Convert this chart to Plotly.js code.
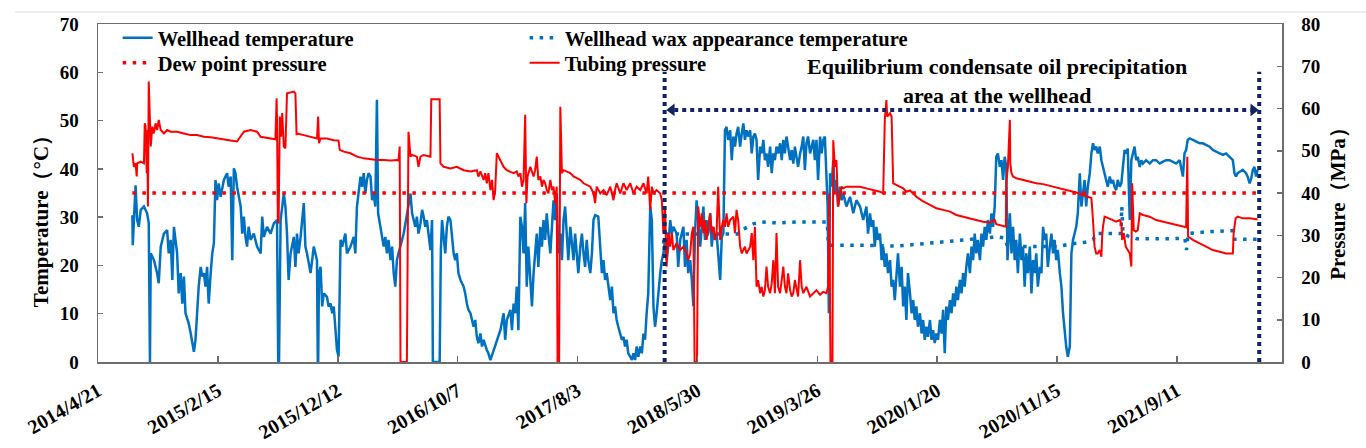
<!DOCTYPE html>
<html>
<head>
<meta charset="utf-8">
<script src="https://cdn.plot.ly/plotly-3.0.1.min.js"></script>
<style>
  html, body { margin: 0; padding: 0; background: #fff; }
  #chart { width: 1366px; height: 448px; }
</style>
</head>
<body>
<div id="chart"></div>
<script>
// x values are days counted from 2014/4/21
const startDate = '2014-04-21';
const tickLabels = ['2014/4/21', '2015/2/15', '2015/12/12', '2016/10/7', '2017/8/3',
  '2018/5/30', '2019/3/26', '2020/1/20', '2020/11/15', '2021/9/11'];
const axisEndDay = 2963;

// [day, °C]
const wellheadTemp = [
  [86,30.4],[87,24.2],[94,36.6],[98,29.4],[102,28.0],[107,31.5],[115,32.2],[123,30.8],[127,28.7],[129,0],
  [130,0],[132,22.5],[140,21.1],[148,18.4],[152,16.3],[157,23.9],[165,26.6],[173,27.3],[177,22.5],[182,25.3],
  [186,17.0],[190,28.0],[198,22.5],[202,14.2],[207,18.4],[211,12.1],[215,17.7],[219,10.1],[227,8.0],[232,5.9],
  [236,3.9],[240,2.1],[244,4.6],[248,10.1],[252,15.6],[257,19.7],[261,17.7],[265,18.4],[269,15.6],[273,19.7],
  [277,12.1],[282,18.4],[286,22.5],[290,24.6],[294,37.7],[298,33.5],[302,37.0],[307,34.2],[315,37.7],[323,39.1],
  [327,36.3],[332,38.4],[336,21.1],[340,40.1],[344,39.1],[348,36.3],[352,34.2],[357,32.2],[361,26.6],[365,30.1],
  [369,25.9],[373,23.9],[377,28.0],[382,25.3],[390,26.6],[398,23.9],[407,22.5],[411,30.1],[415,25.9],[423,28.0],
  [432,26.6],[440,28.7],[448,29.4],[451,0],[453,0],[457,29.4],[465,34.9],[469,32.2],[473,26.6],[477,17.0],
  [482,22.5],[490,25.9],[494,19.7],
  [498,26.6],[502,22.5],[507,25.9],[515,32.9],[519,23.9],[523,22.5],[532,18.4],[540,23.9],[544,22.5],[548,21.1],
  [550,0],[551,0],[553,18.4],[557,19.7],[561,11.5],[565,14.2],[573,13.5],[577,11.5],[582,12.1],[586,10.1],
  [590,11.5],[594,7.3],[598,2.5],[602,1.1],[607,25.3],[611,23.9],[619,26.6],[623,22.5],[632,23.9],[640,25.9],
  [644,22.5],[648,32.2],[652,34.9],[657,38.4],[661,36.3],[665,39.1],[669,34.9],[673,37.7],[677,39.1],[682,38.4],
  [686,33.5],[690,34.9],[694,32.2],[698,54.3],[701,30.8],[707,28.0],[711,26.6],[715,23.9],[719,25.9],[723,22.5],
  [727,25.3],[732,21.1],[736,23.9],[740,18.4],[744,15.6],[748,21.1],[752,22.5],[765,26.6],[782,34.9],[786,30.8],
  [790,29.4],[794,28.0],[798,30.1],[802,26.6],[807,28.7],[811,31.5],[815,30.1],[819,28.0],[823,29.4],[827,26.6],
  [832,23.2],[836,29.4],[838,0],[855,0],[858,23.2],[861,29.4],[865,26.6],[869,22.5],[873,28.0],[877,30.1],
  [882,29.4],[886,25.9],[890,22.5],[894,21.1],[898,22.5],[902,18.4],[907,17.0],[915,15.6],[919,14.2],[923,12.1],
  [927,10.8],[932,10.1],[936,8.7],[940,7.3],[944,8.7],[948,5.2],[952,3.9],[957,5.9],[961,3.2],[965,4.6],
  [973,2.5],[977,1.8],[982,0.4],[990,2.5],
  [998,4.6],[1007,6.6],[1015,10.1],[1019,4.6],[1023,8.7],[1032,10.8],[1036,6.6],[1040,12.1],[1044,10.1],[1048,15.6],
  [1052,6.6],[1057,30.1],[1061,28.0],[1065,22.5],[1069,32.9],[1073,15.6],[1077,23.9],[1082,17.0],[1086,11.5],[1090,18.4],
  [1094,22.5],[1098,26.6],[1102,19.7],[1107,28.0],[1111,23.9],[1115,29.4],[1119,25.3],[1123,30.8],[1127,26.6],[1132,22.5],
  [1136,28.0],[1140,33.5],[1144,29.4],[1148,34.9],[1152,22.5],[1157,26.6],[1161,21.1],[1165,29.4],[1169,32.2],[1173,25.3],
  [1177,21.1],[1182,28.0],[1186,23.9],[1190,21.1],[1194,26.6],[1198,22.5],[1202,18.4],[1207,23.9],[1211,26.6],[1215,22.5],
  [1219,19.7],[1223,25.3],[1227,21.1],[1232,18.4],[1236,22.5],[1240,29.4],[1244,30.4],[1252,30.1],[1257,23.9],[1261,18.4],
  [1265,21.1],[1269,17.0],[1273,18.4],[1277,15.6],[1282,12.8],[1286,15.6],[1290,10.1],[1294,11.5],[1298,8.7],[1302,7.3],
  [1307,5.9],[1311,4.6],[1315,5.2],[1319,3.2],[1323,4.6],[1327,1.8],[1332,1.1],[1336,0.4],[1340,1.8],[1344,0.4],
  [1348,3.2],[1352,1.1],[1357,3.2],[1361,1.8],[1365,5.9],[1369,4.6],[1373,10.1],[1377,14.2],[1382,32.2],[1386,29.4],
  [1390,11.5],[1394,7.3],[1398,10.1],[1402,14.2],[1407,18.4],[1411,21.1],[1415,22.5],[1419,25.3],[1423,21.1],[1427,23.9],
  [1432,29.4],[1436,26.6],[1440,28.0],[1448,26.6],[1452,19.7],[1457,25.3],[1465,28.0],[1469,19.7],[1473,25.3],[1477,18.4],
  [1482,21.1],[1486,17.0],[1490,11.5],[1494,26.6],
  [1498,33.5],[1502,29.4],[1507,23.9],[1511,28.0],[1515,32.2],[1519,25.3],[1523,29.4],[1527,26.6],[1532,30.8],[1536,23.9],
  [1540,28.0],[1544,25.3],[1548,26.6],[1552,22.5],[1557,17.0],[1561,25.9],[1565,26.6],[1569,48.0],[1573,48.7],[1577,46.0],
  [1582,48.0],[1586,41.8],[1590,46.7],[1594,44.6],[1598,47.3],[1602,48.7],[1607,44.6],[1611,47.3],[1615,49.4],[1619,46.0],
  [1623,48.0],[1627,46.7],[1632,48.0],[1636,43.2],[1640,46.7],[1644,47.3],[1648,46.0],[1652,37.7],[1657,44.6],[1661,43.2],
  [1665,46.0],[1669,41.8],[1673,43.2],[1677,40.4],[1682,44.6],[1686,39.1],[1690,43.2],[1694,41.8],[1698,44.6],[1702,43.2],
  [1707,45.3],[1711,41.8],[1715,46.0],[1719,43.2],[1723,46.7],[1727,44.6],[1732,41.8],[1736,43.9],[1740,41.1],[1744,44.6],
  [1748,42.5],[1752,40.4],[1757,43.2],[1761,44.6],[1765,46.7],[1769,39.8],[1773,45.3],[1777,46.7],[1782,43.2],[1786,44.6],
  [1790,46.0],[1794,41.8],[1798,46.0],[1802,37.7],[1807,46.7],[1811,43.2],[1815,46.0],[1819,46.7],[1823,36.3],[1826,32.2],
  [1829,10.1],[1832,39.1],[1836,36.3],[1840,41.8],[1844,34.9],[1848,37.7],[1852,32.2],[1857,36.3],[1861,33.5],[1865,34.9],
  [1873,32.2],[1882,34.2],[1890,30.8],[1898,33.5],[1907,32.2],[1915,29.4],[1923,32.2],[1927,26.6],[1932,30.8],[1936,28.0],
  [1940,29.4],[1944,23.9],[1948,28.0],[1952,25.3],[1957,26.6],[1961,21.1],[1965,23.9],[1969,19.7],[1973,22.5],[1977,18.4],
  [1982,21.1],[1986,15.6],[1990,17.0],[1994,12.8],
  [1998,17.7],[2002,22.5],[2007,15.6],[2011,19.7],[2015,11.5],[2019,15.6],[2023,8.7],[2027,18.4],[2032,14.2],[2036,10.1],
  [2040,12.8],[2044,8.7],[2048,11.5],[2052,7.3],[2057,10.1],[2061,5.9],[2065,8.7],[2069,4.6],[2073,7.3],[2077,5.2],
  [2082,8.7],[2086,4.6],[2090,6.6],[2094,3.9],[2098,5.9],[2102,4.6],[2107,8.7],[2111,5.9],[2115,10.8],[2119,1.8],
  [2123,11.5],[2127,8.7],[2132,12.8],[2136,10.1],[2140,14.2],[2144,11.5],[2148,15.6],[2152,12.8],[2157,17.0],[2161,14.2],
  [2165,18.4],[2169,15.6],[2173,19.7],[2177,22.5],[2182,18.4],[2186,23.9],[2190,21.1],[2194,26.6],[2198,22.5],[2202,25.3],
  [2207,21.1],[2211,26.6],[2215,23.9],[2219,28.0],[2223,25.3],[2227,29.4],[2232,26.6],[2236,30.8],[2240,28.0],[2244,32.2],
  [2248,42.5],[2252,43.2],[2257,40.4],[2261,41.8],[2265,37.7],[2269,42.5],[2273,40.4],[2276,21.1],[2282,30.8],[2286,22.5],
  [2290,28.0],[2294,21.1],[2298,25.3],[2302,18.4],[2307,26.6],[2311,21.1],[2315,23.9],[2319,15.6],[2323,22.5],[2327,18.4],
  [2332,23.9],[2336,14.2],[2340,21.1],[2344,18.4],[2348,22.5],[2352,15.6],[2357,19.7],[2361,18.4],[2365,28.0],[2369,25.3],
  [2373,26.6],[2377,19.7],[2382,23.9],[2386,26.6],[2390,22.5],[2394,25.3],[2398,21.1],[2402,23.2],[2407,18.4],[2411,15.6],
  [2415,10.1],[2419,5.9],[2423,3.2],[2427,1.1],[2432,3.2],[2436,22.5],[2440,25.3],[2444,26.6],[2448,28.0],[2452,30.8],
  [2457,39.1],[2461,32.2],[2465,34.9],[2469,37.7],[2473,32.2],[2477,36.3],[2482,39.1],[2486,43.2],[2490,45.3],[2494,43.9],
  [2498,44.6],[2502,43.2],[2507,44.6],[2511,41.8],[2515,40.4],[2519,39.1],[2523,37.7],[2527,36.3],[2532,38.4],[2536,37.0],
  [2540,37.7],[2544,36.3],[2548,35.6],[2552,37.7],[2557,36.3],[2561,37.0],[2565,40.4],[2569,43.9],[2573,43.2],[2577,44.2],
  [2582,29.4],[2586,41.8],[2590,43.2],[2594,44.6],[2598,41.8],[2602,42.5],[2607,40.4],[2611,41.8],[2615,41.1],[2623,41.8],
  [2632,41.1],[2640,41.8],[2648,41.8],[2657,41.1],[2665,41.5],[2673,41.8],[2682,41.8],[2690,41.5],[2698,41.1],[2707,41.8],
  [2711,40.4],[2715,38.4],[2719,43.2],[2723,43.9],[2727,46.0],[2732,46.3],[2740,46.0],[2748,45.6],[2757,45.3],[2765,45.3],
  [2773,44.9],[2782,44.6],[2790,43.9],[2798,43.6],[2807,43.2],[2815,42.9],[2823,43.2],[2832,42.5],[2840,41.8],[2844,39.1],
  [2848,38.4],[2852,39.1],[2857,39.4],[2865,39.8],[2873,39.1],[2877,38.4],[2882,37.0],[2886,38.0],[2890,39.8],[2894,40.4],
  [2898,38.4],[2902,39.8]
];

// [day, °C]
const waxTemp = [
  [1415,24.5],[1420,26.5],[1500,26.5],[1600,26.5],[1615,27.5],[1640,28.6],[1660,29.0],[1700,28.8],[1750,29.0],[1800,29.1],
  [1825,29.0],[1828,24.2],[1900,24.2],[2000,24.0],[2100,24.8],[2200,25.6],[2248,25.9],[2270,25.7],[2276,23.9],[2400,23.9],
  [2432,24.4],[2470,24.8],[2490,25.3],[2498,26.6],[2560,26.6],[2562,32.2],[2565,26.6],[2580,26.0],[2600,25.5],[2650,25.5],
  [2720,25.6],[2724,23.2],[2728,26.6],[2780,27.0],[2840,27.2],[2844,25.4],[2902,25.4]
];

// [day, MPa]
const dewPressure = [[86,40],[2902,40]];

// [day, MPa]
const tubingPressure = [
  [86,49.4],[90,46.2],[94,47.0],[97,43.9],[98,47.0],[107,47.4],[115,47.0],[117,56.5],[119,55.7],[122,44.7],
  [123,54.9],[125,36.8],[127,66.4],[130,53.3],[132,51.0],[136,55.7],[140,54.1],[144,56.5],[148,54.9],[152,57.3],
  [157,54.9],[165,54.1],[173,54.9],[182,54.5],[198,54.5],[215,54.1],[232,53.7],[248,53.7],[265,53.3],[282,53.2],
  [298,52.9],[315,52.7],[332,52.4],[348,52.2],[357,53.3],[365,54.5],[382,54.9],[398,54.5],[407,53.3],[415,53.2],
  [432,52.9],[444,52.7],[447,62.4],[448,57.3],[450,33.6],[452,32.8],[455,58.1],[458,53.3],[461,58.9],[465,51.0],
  [469,50.6],[473,63.6],[490,64.0],[494,63.6],[497,53.7],
  [498,54.1],[515,53.7],[532,53.3],[548,52.9],[551,58.1],[553,51.8],[557,52.9],[573,52.9],[590,52.5],[602,52.4],
  [605,50.2],[615,49.8],[632,49.4],[648,48.6],[665,48.2],[682,48.0],[698,47.8],[715,47.8],[732,47.7],[748,47.8],
  [752,47.7],[755,51.0],[757,0],[773,0],[775,47.8],[777,54.5],[782,48.6],[786,49.0],[798,48.6],[802,46.2],
  [807,48.6],[815,49.0],[832,48.6],[834,62.2],[855,62.2],[857,47.0],[865,46.2],[882,45.8],[898,46.2],[915,45.4],
  [932,45.1],[948,45.4],[952,43.9],[957,45.1],[965,43.1],[969,44.7],[973,42.3],[977,44.7],[982,40.7],[986,43.1],
  [990,38.3],[994,40.7],
  [998,49.4],[1007,47.8],[1015,46.2],[1023,45.4],[1032,45.1],[1040,44.7],[1048,45.1],[1052,43.9],[1057,44.7],[1061,41.5],
  [1065,43.1],[1069,58.5],[1072,37.6],[1075,43.9],[1082,46.2],[1086,44.7],[1090,43.9],[1094,45.4],[1098,48.6],[1102,43.1],
  [1107,43.9],[1111,41.5],[1115,43.1],[1119,42.3],[1123,40.7],[1127,39.9],[1132,43.1],[1136,40.7],[1140,41.5],[1144,37.6],
  [1148,41.5],[1150,0],[1154,0],[1157,60.4],[1161,44.7],[1165,45.4],[1173,45.1],[1182,44.7],[1190,43.9],[1198,43.5],
  [1207,43.1],[1215,42.3],[1223,41.9],[1232,41.5],[1240,39.9],[1244,37.6],[1248,41.5],[1257,39.9],[1265,40.7],[1273,39.5],
  [1282,41.5],[1290,38.3],[1294,40.7],[1298,42.3],[1307,39.9],[1315,42.3],[1323,40.7],[1332,42.3],[1340,39.9],[1348,41.5],
  [1357,40.7],[1365,42.3],[1373,39.9],[1377,43.9],[1382,36.0],[1386,41.5],[1390,39.9],[1398,40.7],[1407,39.9],[1411,38.3],
  [1415,30.5],[1419,36.8],[1423,22.6],[1427,30.5],[1432,27.3],[1436,30.5],[1440,26.5],[1448,28.1],[1457,26.5],[1465,27.3],
  [1473,25.7],[1477,24.1],[1482,25.7],[1486,30.5],[1490,32.0],[1493,0],[1499,0],
  [1502,36.8],[1507,32.0],[1511,35.2],[1515,30.5],[1519,33.6],[1523,28.9],[1527,32.0],[1532,35.2],[1536,30.5],[1540,32.0],
  [1544,28.9],[1548,30.5],[1552,41.5],[1557,28.9],[1561,32.0],[1565,33.6],[1569,32.0],[1573,35.2],[1577,32.0],[1582,33.6],
  [1590,34.4],[1594,30.5],[1598,36.0],[1602,33.6],[1607,27.3],[1611,25.7],[1615,26.5],[1619,27.3],[1623,25.7],[1627,26.5],
  [1632,27.3],[1636,30.5],[1640,24.1],[1644,32.0],[1648,17.8],[1652,19.4],[1657,16.3],[1661,17.8],[1665,15.5],[1669,17.0],
  [1673,22.6],[1677,17.8],[1682,16.3],[1686,18.6],[1690,24.1],[1694,16.3],[1698,30.5],[1702,17.8],[1707,16.3],[1711,19.4],
  [1715,22.6],[1719,17.8],[1723,16.3],[1727,21.0],[1732,17.0],[1736,15.5],[1740,16.3],[1744,19.4],[1748,17.0],[1752,15.5],
  [1757,24.1],[1761,17.8],[1765,16.3],[1773,17.8],[1782,15.5],[1790,16.3],[1798,17.0],[1807,15.9],[1815,16.6],[1823,16.3],
  [1827,17.8],[1830,39.9],[1833,0],[1838,0],[1840,52.5],[1844,46.2],[1848,47.8],[1852,36.8],[1857,39.9],[1861,41.5],
  [1865,41.1],[1873,41.5],[1890,41.5],[1907,41.5],[1923,41.1],[1940,40.7],[1957,40.3],[1965,39.9],[1969,57.3],[1973,62.0],
  [1975,58.1],[1982,58.9],[1986,58.1],[1990,42.3],[1998,41.9],
  [2015,41.1],[2023,40.3],[2032,40.6],[2048,39.1],[2065,38.0],[2082,37.2],[2098,36.4],[2115,36.0],[2132,35.6],[2148,34.8],
  [2165,34.4],[2182,34.0],[2198,33.6],[2215,33.2],[2232,33.0],[2244,33.6],[2248,32.6],[2265,32.2],[2272,32.0],[2273,42.3],
  [2277,46.2],[2282,57.3],[2283,47.0],[2286,44.7],[2290,43.9],[2298,43.5],[2315,43.1],[2332,42.7],[2348,42.3],[2365,42.1],
  [2382,41.7],[2398,41.3],[2415,40.9],[2432,40.6],[2448,40.1],[2465,39.5],[2477,39.1],[2486,38.8],[2490,33.6],[2494,27.3],
  [2498,25.7],[2502,25.7],[2507,26.5],[2511,24.9],[2513,29.7],[2515,32.0],[2519,34.4],[2532,34.0],[2540,33.6],[2548,33.2],
  [2557,33.6],[2561,32.8],[2563,28.9],[2567,30.5],[2572,27.3],[2577,26.5],[2582,25.7],[2586,22.6],[2588,42.3],[2592,31.2],
  [2597,30.9],[2602,31.2],[2607,35.2],[2615,34.8],[2632,34.4],[2648,33.6],[2665,33.2],[2682,32.8],[2698,32.4],[2715,32.0],
  [2723,31.9],[2726,48.6],[2728,29.7],[2740,28.9],[2757,28.1],[2773,27.3],[2790,26.5],[2807,26.1],[2823,25.7],[2840,25.7],
  [2842,30.5],[2847,34.0],[2852,34.4],[2865,34.0],[2882,34.0],[2898,33.8],[2902,33.8]
];

// precipitation area marked with the arrow: start / end day, arrow level (°C), top of markers (°C)
const regionDays = [1418, 2906];
const arrowDays = [1436, 2891];
const arrowLevel = 52.2;
const regionTop = 60.1;

const base = Date.UTC(2014, 3, 21);
function dayToDate(d) {
  return new Date(base + d * 86400000).toISOString().slice(0, 10);
}
function labelToDate(s) {
  const p = s.split('/');
  return p[0] + '-' + p[1].padStart(2, '0') + '-' + p[2].padStart(2, '0');
}
const xs = arr => arr.map(p => dayToDate(p[0]));
const ys = arr => arr.map(p => p[1]);

const serif = 'Liberation Serif, Times New Roman, serif';
const navy = '#102463';
const frame = '#6e6e6e';

const traces = [
  {
    x: xs(wellheadTemp), y: ys(wellheadTemp), type: 'scatter', mode: 'lines',
    name: 'Wellhead temperature', line: { color: '#0070C0', width: 2.5 },
    legend: 'legend'
  },
  {
    x: xs(waxTemp), y: ys(waxTemp), type: 'scatter', mode: 'lines',
    name: 'Wellhead wax appearance temperature',
    line: { color: '#0070C0', width: 3.5, dash: '3.5px,6.5px' },
    legend: 'legend'
  },
  {
    x: xs(dewPressure), y: ys(dewPressure), type: 'scatter', mode: 'lines', yaxis: 'y2',
    name: 'Dew point pressure', line: { color: '#FF0000', width: 3.5, dash: '3.5px,6.5px' },
    legend: 'legend2'
  },
  {
    x: xs(tubingPressure), y: ys(tubingPressure), type: 'scatter', mode: 'lines', yaxis: 'y2',
    name: 'Tubing pressure', line: { color: '#FF0000', width: 2 },
    legend: 'legend2'
  },
  {
    x: xs(arrowDays.map(d => [d])), y: [arrowLevel, arrowLevel], type: 'scatter', mode: 'markers',
    marker: { symbol: ['triangle-left', 'triangle-right'], size: 11, color: navy },
    showlegend: false, hoverinfo: 'skip', cliponaxis: false
  }
];

const tickFont = { family: serif, size: 19, color: '#000', weight: 'bold' };
const legendFont = { family: serif, size: 20.5, color: '#000', weight: 'bold' };
const noteFont = { family: serif, size: 22, color: '#000', weight: 'bold' };
const titleFont = { family: serif, size: 21, color: '#000', weight: 'bold' };

const dotted = { color: navy, width: 4, dash: '4px,4px' };

const layout = {
  width: 1366, height: 448,
  margin: { l: 98, r: 84, t: 24, b: 86 },
  paper_bgcolor: '#fff', plot_bgcolor: '#fff',
  showlegend: true,
  xaxis: {
    type: 'date',
    range: [startDate, dayToDate(axisEndDay)],
    tickvals: tickLabels.map(labelToDate),
    ticktext: tickLabels,
    tickangle: -30,
    tickfont: { family: serif, size: 20, color: '#000', weight: 'bold' },
    ticks: 'inside', ticklen: 6, tickcolor: frame, tickwidth: 1.5,
    ticklabelstandoff: 8,
    showline: true, linecolor: frame, linewidth: 1.5, mirror: true,
    showgrid: false, zeroline: false
  },
  yaxis: {
    range: [0, 70], dtick: 10,
    tickfont: tickFont,
    ticks: 'inside', ticklen: 5, tickcolor: frame, tickwidth: 1.5,
    ticklabelstandoff: 14,
    showline: true, linecolor: frame, linewidth: 1.5,
    showgrid: false, zeroline: false
  },
  yaxis2: {
    overlaying: 'y', side: 'right',
    range: [0, 80], dtick: 10,
    tickfont: tickFont,
    ticks: 'inside', ticklen: 5, tickcolor: frame, tickwidth: 1.5,
    ticklabelstandoff: 14,
    showline: true, linecolor: frame, linewidth: 1.5,
    showgrid: false, zeroline: false
  },
  legend: {
    orientation: 'h', x: 0.0166, xanchor: 'left', y: 0.9586, yanchor: 'middle',
    entrywidth: 362, font: legendFont, bgcolor: 'rgba(0,0,0,0)', borderwidth: 0
  },
  legend2: {
    orientation: 'h', x: 0.0166, xanchor: 'left', y: 0.8846, yanchor: 'middle',
    entrywidth: 362, font: legendFont, bgcolor: 'rgba(0,0,0,0)', borderwidth: 0
  },
  shapes: [
    { type: 'line', xref: 'paper', yref: 'paper', x0: -0.0701, x1: 1.071, y0: 1.0355, y1: 1.0355,
      line: { color: '#dcdcdc', width: 1 } },
    { type: 'line', xref: 'x', yref: 'y', x0: dayToDate(regionDays[0]), x1: dayToDate(regionDays[0]),
      y0: 0, y1: regionTop, line: dotted },
    { type: 'line', xref: 'x', yref: 'y', x0: dayToDate(regionDays[1]), x1: dayToDate(regionDays[1]),
      y0: 0, y1: regionTop, line: dotted },
    { type: 'line', xref: 'x', yref: 'y', x0: dayToDate(arrowDays[0] + 6), x1: dayToDate(arrowDays[1] - 6),
      y0: arrowLevel, y1: arrowLevel, line: dotted }
  ],
  annotations: [
    { xref: 'paper', yref: 'paper', x: 0.7593, y: 0.831, xanchor: 'center', yanchor: 'middle',
      text: 'Equilibrium condensate oil precipitation<br>area at the wellhead', showarrow: false,
      align: 'center', font: noteFont },
    { xref: 'paper', yref: 'paper', x: -0.048, y: 0.432, xanchor: 'center', yanchor: 'middle',
      text: 'Temperature（°C）', textangle: -90, showarrow: false, font: titleFont },
    { xref: 'paper', yref: 'paper', x: 1.047, y: 0.485, xanchor: 'center', yanchor: 'middle',
      text: 'Pressure（MPa）', textangle: -90, showarrow: false, font: titleFont }
  ]
};

Plotly.newPlot('chart', traces, layout, { displayModeBar: false, staticPlot: true });
</script>
</body>
</html>
